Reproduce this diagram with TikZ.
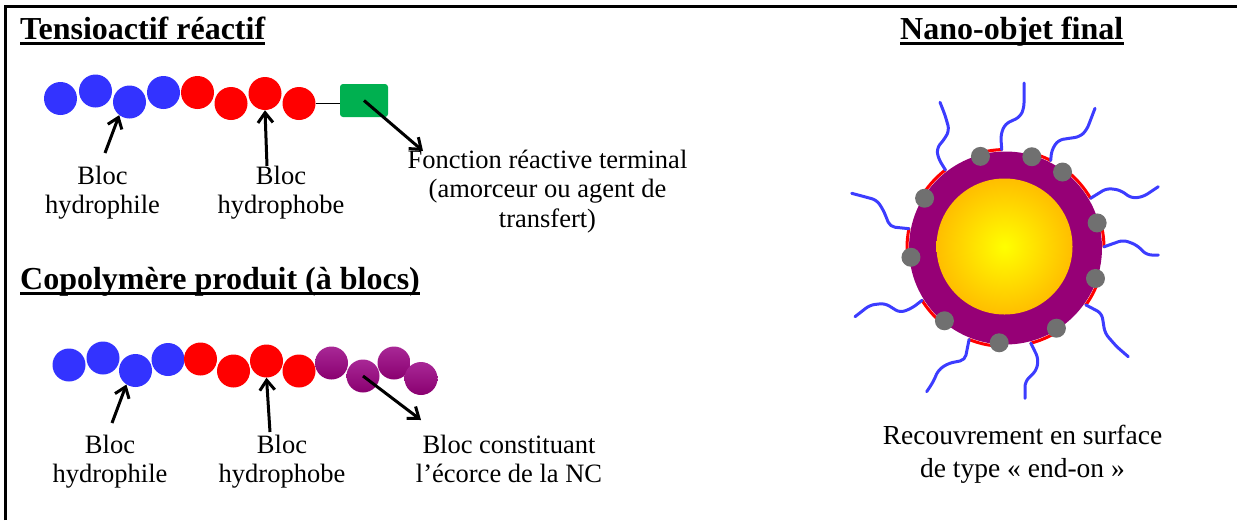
\documentclass[tikz,border=0pt]{standalone}
\usepackage{fontspec}
\setmainfont{Liberation Serif}
\usetikzlibrary{arrows.meta}

\definecolor{hydrophilic}{RGB}{51,51,255}
\definecolor{hydrophobic}{RGB}{255,0,0}
\definecolor{endgroup}{RGB}{0,176,80}
\definecolor{shelltop}{RGB}{168,40,150}
\definecolor{shellbottom}{RGB}{138,0,112}
\definecolor{shell}{RGB}{150,0,118}
\definecolor{coreout}{RGB}{255,190,0}
\definecolor{coreins}{RGB}{255,255,0}
\definecolor{anchorgray}{RGB}{112,112,112}
\definecolor{chainblue}{RGB}{60,60,255}

\begin{document}
\begin{tikzpicture}[x=1pt,y=-1pt,
  bead/.style={circle, inner sep=0pt, minimum size=33pt},
  philbead/.style={bead, fill=hydrophilic},
  phobbead/.style={bead, fill=hydrophobic},
  shellbead/.style={bead, top color=shelltop, bottom color=shellbottom},
  reactive/.style={rounded corners=3pt, fill=endgroup, inner sep=0pt,
    minimum width=48pt, minimum height=33pt},
  lbl/.style={font=\fontsize{26.5}{29.5}\selectfont, align=center,
    inner sep=0pt, anchor=base},
  heading/.style={font=\bfseries\fontsize{32}{38}\selectfont, inner sep=0pt,
    anchor=base west},
  headrule/.style={line width=2.6pt},
  pointer/.style={line width=3pt, -{Straight Barb[length=10pt,width=15pt]}},
  graft/.style={line width=3pt, hydrophobic, line cap=round},
  corona/.style={line width=3pt, chainblue, rounded corners=5pt,
    line cap=round, line join=round},
  anchordot/.style={circle, fill=anchorgray, inner sep=0pt, minimum size=19pt}]

\useasboundingbox (0,0) rectangle (1237,520);

% frame
\draw[line width=3pt] (5.5,520) -- (5.5,6.5) -- (1237,6.5);

% headings
\node[heading] (h1) at (20,39.3) {Tensioactif réactif};
\draw[headrule] ([yshift=-4.2pt]h1.base west) -- ([yshift=-4.2pt]h1.base east);
\node[heading] (h2) at (20,289) {Copolymère produit (à blocs)};
\draw[headrule] ([yshift=-4.2pt]h2.base west) -- ([yshift=-4.2pt]h2.base east);
\node[heading] (h3) at (900,39.3) {Nano-objet final};
\draw[headrule] ([yshift=-4.2pt]h3.base west) -- ([yshift=-4.2pt]h3.base east);

% reactive surfactant
\node[philbead] (a1) at (60.5,98.5) {};
\node[philbead] (a2) at (95.5,91) {};
\node[philbead] (a3) at (129.5,102) {};
\node[philbead] (a4) at (163.5,92.5) {};
\node[phobbead] (a5) at (197.5,92.5) {};
\node[phobbead] (a6) at (231,103.5) {};
\node[phobbead] (a7) at (265,93.5) {};
\node[phobbead] (a8) at (299,103.5) {};
\node[reactive] (g) at (364,100.5) {};
\draw[line width=0.8pt] (a8.east) -- (a8.east -| g.west);

% multi-line labels are placed by the baseline of their last line
\node[lbl] (l1) at (102.5,213.5) {Bloc\\hydrophile};
\node[lbl] (l2) at (281,213.5) {Bloc\\hydrophobe};
\node[lbl] (l3) at (547.5,227) {Fonction réactive terminal\\(amorceur ou agent de\\transfert)};

\coordinate (s1) at (105,153);
\coordinate (s2) at (267,166);
\coordinate (e3) at (423,151);
\draw[pointer] (s1) -- (a3.232);
\draw[pointer] (s2) -- (a7.south);
\draw[pointer] (g.center) -- (e3);

% block copolymer
\node[philbead] (b1) at (69,365) {};
\node[philbead] (b2) at (103,358) {};
\node[philbead] (b3) at (135.5,370.5) {};
\node[philbead] (b4) at (168,359.5) {};
\node[phobbead] (b5) at (200.5,359) {};
\node[phobbead] (b6) at (233.5,371) {};
\node[phobbead] (b7) at (266.5,361) {};
\node[phobbead] (b8) at (299,371) {};
\node[shellbead] (b9) at (331.5,363) {};
\node[shellbead] (b10) at (363,376) {};
\node[shellbead] (b11) at (394,363) {};
\node[shellbead] (b12) at (421,378.5) {};

\node[lbl] (l4) at (110,482.5) {Bloc\\hydrophile};
\node[lbl] (l5) at (282,482.5) {Bloc\\hydrophobe};
\node[lbl] (l6) at (509,482.5) {Bloc constituant\\l’écorce de la NC};

\coordinate (s4) at (112,423);
\coordinate (s5) at (270,432);
\coordinate (e6) at (421,420);
\draw[pointer] (s4) -- (b3.237);
\draw[pointer] (s5) -- (b7.south);
\draw[pointer] (b10.center) -- (e6);

% nano-object: shell, core, grafted chains
\coordinate (np) at (1005.5,248);
\coordinate (core) at (1004.5,246.5);
\fill[shell] (np) circle[radius=96.5];
\shade[inner color=coreins, outer color=coreout] (core) circle[radius=68];

% red spacer segments lying on the shell surface
\foreach \d/\e/\n in {-105.3/-92.2/A, -73.9/-62.7/B, -53.1/-30.3/C,
    -15.3/-0.7/D, 18.7/35.3/E, 57.6/75.1/F, 93.8/111.7/G,
    130/147.9/H, 174.4/191.3/I, -148.4/-127.6/J}{
  \draw[graft] plot[domain=\d:\e, samples=10]
    ({1005.5+98.5*cos(\x)}, {248+98.5*sin(\x)});
  \coordinate (r\n) at ({1005.5+98.5*cos(\e)}, {248+98.5*sin(\e)});
}

\draw[corona] (rA) -- (1000.7,135) -- (1005,124) -- (1020,117) -- (1024,108) -- (1024,83);
\draw[corona] (rB) -- (1051.7,150) -- (1058.3,140) -- (1080,136.7) -- (1086.7,130) -- (1095,108.3);
\draw[corona] (rC) -- (1106.7,188.3) -- (1120,190) -- (1131.7,198.3) -- (1143.3,196.7) -- (1158.3,186.7);
\draw[corona] (rD) -- (1123.3,240) -- (1136.7,245) -- (1146.7,255) -- (1158.3,255);
\draw[corona] (rE) -- (1101.7,313.3) -- (1105,333.3) -- (1116.7,346.7) -- (1128.3,356.7);
\draw[corona] (rF) -- (1038.3,358.3) -- (1036.7,370) -- (1025,381.7) -- (1025,398.3);
\draw[corona] (rG) -- (965,360) -- (948.3,363.3) -- (938.3,370) -- (933.3,381.7) -- (926.7,391.7);
\draw[corona] (rH) -- (911.7,308.3) -- (900,312.7) -- (885,303.3) -- (870,305) -- (855,316.7);
\draw[corona] (rI) -- (890,226.7) -- (883.3,210) -- (876.7,200) -- (851.7,193.3);
\draw[corona] (rJ) -- (938.3,158.3) -- (936.7,148.3) -- (945,138.3) -- (949.3,130) -- (945,115) -- (940,102.3);

\foreach \d/\n in {-105.3/A, -73.9/B, -53.1/C, -15.3/D, 18.7/E,
    57.6/F, 93.8/G, 130/H, 174.4/I, -148.4/J}
  \path (np) ++(\d:95) node[anchordot] (d\n) {};

\node[lbl, font=\fontsize{27.5}{33}\selectfont] (l7) at (1022.5,477)
  {Recouvrement en surface\\de type « end-on »};

\end{tikzpicture}
\end{document}
